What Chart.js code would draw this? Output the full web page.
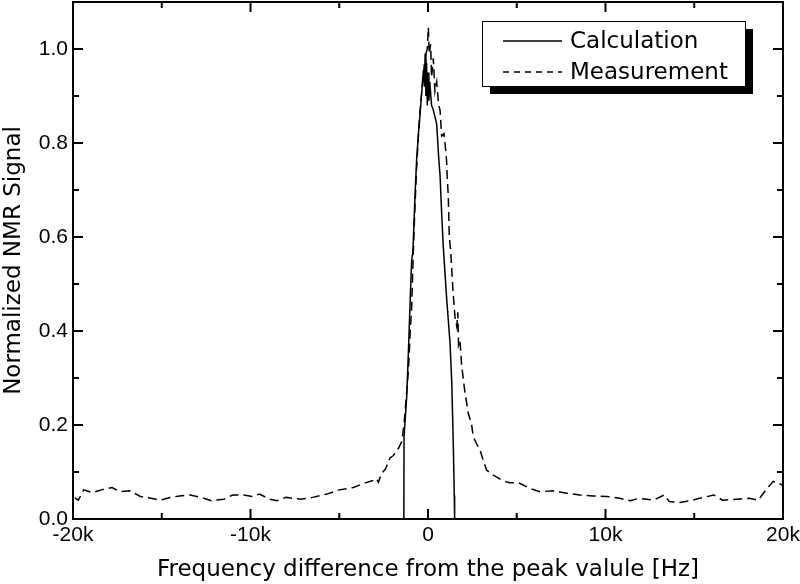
<!DOCTYPE html>
<html lang="en">
<head>
    <meta charset="UTF-8">
    <title>Normalized NMR signal vs frequency difference</title>
    <script src="https://cdn.jsdelivr.net/npm/chart.js"></script>
    <style>
        body { margin: 0; background: #fff; }
        canvas { display: block; }
    </style>
</head>
<body>
    <canvas id="myChart" width="800" height="584"></canvas>
    <script>
        // values (frequency in Hz)
        const calcFreq = [-1360, -1350, -1200, -1100, -1000, -920, -850, -730, -640, -550, -450, -350, -260, -200, -160, -120, -80, -40, 0, 50, 100, 200, 300, 490, 600, 680, 770, 860, 1050, 1240, 1340, 1430, 1480, 1500];
        const calcSignal = [0, 0.175, 0.26, 0.36, 0.47, 0.55, 0.57, 0.69, 0.765, 0.815, 0.86, 0.91, 0.955, 0.92, 0.99, 0.9, 0.97, 0.88, 0.95, 0.89, 0.93, 0.88, 0.87, 0.84, 0.77, 0.73, 0.65, 0.58, 0.47, 0.375, 0.29, 0.15, 0.05, 0];

        const measFreq = [-19900, -19700, -19400, -18900, -18400, -17800, -17350, -16800, -16200, -15600, -15100, -14500, -14000, -13400, -12800, -12200, -11500, -11000, -10400, -9900, -9500, -8900, -8500, -8000, -7200, -6500, -5700, -5000, -4200, -3600, -3100, -2900, -2800, -2600, -2400, -2140, -1950, -1670, -1480, -1350, -1200, -1100, -1000, -920, -850, -760, -650, -520, -400, -300, -260, -200, -170, -120, -40, 20, 70, 150, 200, 300, 390, 490, 600, 680, 770, 900, 1010, 1050, 1090, 1140, 1200, 1280, 1400, 1520, 1620, 1680, 1720, 1800, 1900, 2080, 2270, 2460, 2550, 2740, 2930, 3100, 3300, 3600, 3870, 4300, 4600, 5100, 5750, 6300, 7060, 7800, 8560, 9300, 10070, 10800, 11400, 11900, 12700, 13300, 13600, 14200, 14800, 15300, 16100, 16600, 17400, 18100, 18600, 19100, 19450, 19800, 19950];
        const measSignal = [0.045, 0.040, 0.062, 0.056, 0.062, 0.067, 0.058, 0.060, 0.048, 0.044, 0.040, 0.046, 0.049, 0.051, 0.046, 0.039, 0.042, 0.051, 0.051, 0.048, 0.053, 0.042, 0.039, 0.046, 0.042, 0.046, 0.053, 0.062, 0.067, 0.076, 0.082, 0.086, 0.078, 0.098, 0.106, 0.13, 0.135, 0.15, 0.165, 0.2, 0.27, 0.32, 0.40, 0.45, 0.54, 0.64, 0.74, 0.83, 0.89, 0.93, 0.945, 0.97, 0.93, 0.99, 1.0, 1.046, 0.99, 1.01, 0.94, 0.98, 0.91, 0.93, 0.88, 0.87, 0.815, 0.82, 0.78, 0.76, 0.72, 0.69, 0.60, 0.57, 0.49, 0.43, 0.41, 0.44, 0.37, 0.38, 0.325, 0.27, 0.225, 0.20, 0.175, 0.16, 0.147, 0.126, 0.104, 0.095, 0.089, 0.08, 0.077, 0.077, 0.065, 0.058, 0.060, 0.055, 0.051, 0.049, 0.048, 0.044, 0.039, 0.044, 0.040, 0.051, 0.037, 0.035, 0.039, 0.044, 0.051, 0.040, 0.042, 0.044, 0.040, 0.065, 0.080, 0.075, 0.072];

        const xMajor = [-20000, -10000, 0, 10000, 20000];
        const xMinor = [-15000, -5000, 5000, 15000];
        const yMajor = [0, 0.2, 0.4, 0.6, 0.8, 1.0];
        const yMinor = [0.1, 0.3, 0.5, 0.7, 0.9];

        const toPoints = (xs, ys) => xs.map((x, i) => ({x: x, y: ys[i]}));

        // frame + ticks pointing inwards on all four sides
        const frameTicks = {
            id: 'frameTicks',
            afterDraw(chart) {
                const ctx = chart.ctx;
                const a = chart.chartArea;
                const xs = chart.scales.x, ys = chart.scales.y;
                ctx.save();
                ctx.strokeStyle = '#000';
                ctx.lineWidth = 2;
                ctx.strokeRect(a.left, a.top, a.right - a.left, a.bottom - a.top);
                ctx.beginPath();
                const xt = (v, len) => {
                    const px = xs.getPixelForValue(v);
                    ctx.moveTo(px, a.bottom); ctx.lineTo(px, a.bottom - len);
                    ctx.moveTo(px, a.top); ctx.lineTo(px, a.top + len);
                };
                const yt = (v, len) => {
                    const py = ys.getPixelForValue(v);
                    ctx.moveTo(a.left, py); ctx.lineTo(a.left + len, py);
                    ctx.moveTo(a.right, py); ctx.lineTo(a.right - len, py);
                };
                xMajor.forEach(v => xt(v, 10));
                xMinor.forEach(v => xt(v, 6));
                yMajor.forEach(v => yt(v, 10));
                yMinor.forEach(v => yt(v, 6));
                ctx.stroke();
                ctx.restore();
            }
        };

        // boxed legend with a drop shadow, inside the plot
        const boxLegend = {
            id: 'boxLegend',
            afterDraw(chart) {
                const ctx = chart.ctx;
                const bx = 482, by = 21, bw = 263, bh = 65, sh = 8;
                ctx.save();
                ctx.fillStyle = '#000';
                ctx.fillRect(bx + sh, by + sh, bw, bh);
                ctx.fillStyle = '#fff';
                ctx.fillRect(bx, by, bw, bh);
                ctx.strokeStyle = '#000';
                ctx.lineWidth = 1;
                ctx.strokeRect(bx + 0.5, by + 0.5, bw, bh);
                ctx.font = '23px "DejaVu Sans"';
                ctx.textBaseline = 'middle';
                ctx.fillStyle = '#000';
                chart.data.datasets.forEach((ds, i) => {
                    const yy = by + 20 + i * 31;
                    ctx.beginPath();
                    ctx.lineWidth = 1.5;
                    ctx.setLineDash(i === 0 ? [] : [6, 5]);
                    ctx.moveTo(bx + 21, yy);
                    ctx.lineTo(bx + 80, yy);
                    ctx.stroke();
                    ctx.setLineDash([]);
                    ctx.fillText(ds.label, bx + 88, yy + 1);
                });
                ctx.restore();
            }
        };

        const ctx = document.getElementById('myChart').getContext('2d');
        const myChart = new Chart(ctx, {
            type: 'line',
            data: {
                datasets: [{
                    label: 'Calculation',
                    data: toPoints(calcFreq, calcSignal),
                    borderColor: '#000',
                    borderWidth: 1.5,
                    pointRadius: 0,
                    tension: 0,
                    fill: false
                },
                {
                    label: 'Measurement',
                    data: toPoints(measFreq, measSignal),
                    borderColor: '#000',
                    borderWidth: 1.5,
                    borderDash: [9, 5],
                    pointRadius: 0,
                    tension: 0,
                    fill: false
                }]
            },
            options: {
                responsive: false,
                animation: false,
                layout: { padding: { left: 0, right: 17, top: 2, bottom: 0 } },
                plugins: { legend: { display: false }, tooltip: { enabled: false } },
                scales: {
                    x: {
                        type: 'linear',
                        min: -20000,
                        max: 20000,
                        afterFit: s => { s.height = 65; s.paddingLeft = 0; s.paddingRight = 0; },
                        grid: { display: false, drawTicks: false },
                        border: { display: false },
                        ticks: {
                            stepSize: 10000,
                            includeBounds: false,
                            maxRotation: 0,
                            padding: 4,
                            color: '#000',
                            font: { family: '"Liberation Sans", Arial', size: 21 },
                            callback: v => v === 0 ? '0' : (v / 1000) + 'k'
                        },
                        title: {
                            display: true,
                            text: 'Frequency difference from the peak valule [Hz]',
                            color: '#000',
                            font: { family: '"DejaVu Sans"', size: 23 },
                            padding: { top: 0, bottom: 0 }
                        }
                    },
                    y: {
                        min: 0,
                        max: 1.1,
                        afterFit: s => { s.width = 73; s.paddingTop = 0; s.paddingBottom = 0; },
                        grid: { display: false, drawTicks: false },
                        border: { display: false },
                        ticks: {
                            stepSize: 0.2,
                            includeBounds: false,
                            padding: 5,
                            color: '#000',
                            font: { family: '"Liberation Sans", Arial', size: 21 },
                            callback: v => v.toFixed(1)
                        },
                        title: {
                            display: true,
                            text: 'Normalized NMR Signal',
                            color: '#000',
                            font: { family: '"DejaVu Sans"', size: 23 },
                            padding: { top: 0, bottom: 0 }
                        }
                    }
                }
            },
            plugins: [frameTicks, boxLegend]
        });
    </script>
</body>
</html>
